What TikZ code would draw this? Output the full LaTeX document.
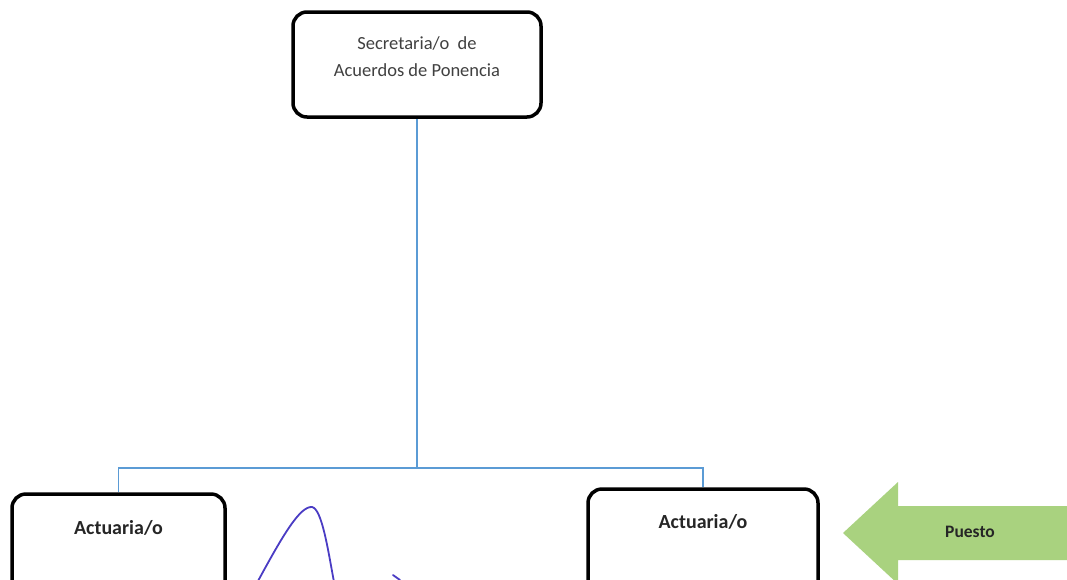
\documentclass[tikz,border=0pt]{standalone}
\usepackage{fontspec}
\setmainfont{Carlito}
\usetikzlibrary{positioning}
\definecolor{orgLine}{HTML}{5B9BD5}
\definecolor{orgArrow}{HTML}{A9D27F}
\definecolor{orgPen}{HTML}{4A3CC4}
\begin{document}
\begin{tikzpicture}[
    x=1pt, y=-1pt,
    orgbox/.style  = {draw=black, line width=3.5pt, rounded corners=14pt, fill=white, inner sep=0pt},
    orgtxt/.style  = {font=\fontsize{18.5}{27}\selectfont, text=black!75, align=center, anchor=north, inner sep=0pt},
    orgbold/.style = {font=\fontsize{20}{24}\selectfont\bfseries, text=black!85, anchor=north, inner sep=0pt},
    conn/.style    = {draw=orgLine, line width=1.4pt},
    pen/.style     = {draw=orgPen, line width=1.8pt, line cap=round},
    puesto/.style  = {font=\fontsize{17.5}{20}\selectfont\bfseries, text=black!85}
  ]
  \clip (0,0) rectangle (1067,579);
  \fill[white] (0,0) rectangle (1067,579);

  %% boxes
  \node[orgbox, minimum width=248pt, minimum height=105pt] (sec) at (417,64.5) {};
  \node[orgtxt, below=26pt of sec.north] (secLbl) {Secretaria/o\ \ de\\Acuerdos de Ponencia};
  \node[orgbox, minimum width=213pt, minimum height=110pt] (actL) at (118.5,549) {};
  \node[orgbold, below=28pt of actL.north] (actLLbl) {Actuaria/o};
  \node[orgbox, minimum width=230pt, minimum height=110pt] (actR) at (703,544) {};
  \node[orgbold, below=27pt of actR.north] (actRLbl) {Actuaria/o};

  %% connectors
  \coordinate (bus) at (sec.south |- 0,468);
  \draw[conn] (sec.south) -- (bus);
  \draw[conn] (actL.north) |- (bus) -| (actR.north);

  %% green arrow
  \fill[orgArrow] (843,533) -- (898,482) -- (898,506) -- (1080,506)
    -- (1080,560) -- (898,560) -- (898,584) -- cycle;
  \node[puesto] (pst) at (970,532) {Puesto};

  %% pen stroke
  \draw[pen] (258,581) .. controls (283,535) and (300,506) .. (312,507)
    .. controls (322,509) and (328,550) .. (334,582);
  \draw[pen] (393,575) -- (400,580);
\end{tikzpicture}
\end{document}
